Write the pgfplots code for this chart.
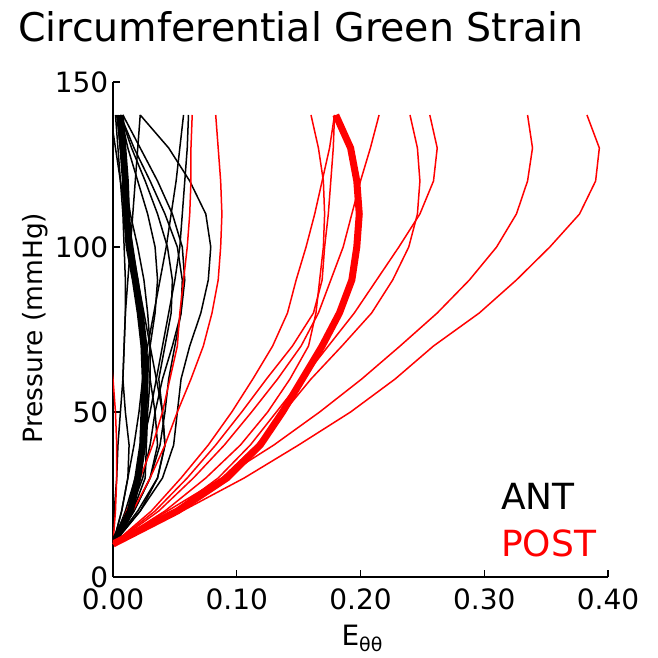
\documentclass[border=0pt]{standalone}
\usepackage{pgfplots}
\usepackage{pgfplotstable}
\pgfplotsset{compat=1.18}
\usepackage{fontspec}
\setmainfont{DejaVu Sans}

\pgfplotstableread{
P   B1    B2    B3    B4    B5    B6    B7     B8    B9    B10   B11   B12   Bm
10  0     0     0     0     0     0     0      0     0     0     0     0     0
20  0.022 0.014 0.020 0.012 0.007 0.010 0.017  0.001 0.007 0.017 0.022 0.016 0.014
30  0.040 0.024 0.036 0.020 0.012 0.018 0.030  0.003 0.012 0.030 0.036 0.026 0.020
40  0.049 0.030 0.042 0.024 0.017 0.024 0.036  0.004 0.013 0.038 0.042 0.027 0.024
50  0.052 0.034 0.040 0.026 0.021 0.030 0.034  0.006 0.010 0.042 0.040 0.028 0.025
60  0.055 0.040 0.037 0.027 0.024 0.035 0.030  0.008 0.008 0.045 0.035 0.030 0.026
70  0.062 0.048 0.042 0.030 0.028 0.040 0.026  0.009 0.009 0.050 0.030 0.030 0.025
80  0.071 0.055 0.047 0.034 0.033 0.045 0.022  0.010 0.010 0.055 0.025 0.028 0.022
90  0.077 0.056 0.048 0.036 0.038 0.050 0.018  0.010 0.012 0.058 0.020 0.025 0.018
100 0.079 0.052 0.044 0.034 0.043 0.054 0.014  0.009 0.014 0.056 0.016 0.020 0.013
110 0.075 0.042 0.036 0.028 0.047 0.056 0.010  0.008 0.016 0.048 0.012 0.014 0.011
120 0.062 0.030 0.026 0.020 0.051 0.058 0.006  0.006 0.018 0.036 0.009 0.010 0.010
130 0.045 0.017 0.015 0.012 0.054 0.060 0.002  0.004 0.020 0.022 0.006 0.006 0.008
140 0.022 0.006 0.006 0.006 0.057 0.061 -0.002 0.002 0.022 0.008 0.003 0.004 0.006
}\antdata

\pgfplotstableread{
P   Ra    Rb    Rc    Rd    Re    Rf    Rg    Rh    Ri    Rj    Rz     Rm
10  0     0     0     0     0     0     0     0     0     0     0      0
20  0.011 0.016 0.042 0.031 0.034 0.037 0.052 0.049 0.044 0.056 0.002  0.052
30  0.022 0.030 0.075 0.055 0.060 0.065 0.088 0.085 0.088 0.106 0.003  0.092
40  0.032 0.042 0.103 0.077 0.083 0.090 0.116 0.111 0.130 0.150 0.003  0.119
50  0.040 0.052 0.125 0.096 0.104 0.112 0.138 0.132 0.167 0.192 0.002  0.137
60  0.046 0.063 0.143 0.113 0.124 0.133 0.160 0.153 0.201 0.228 0.000  0.153
70  0.052 0.073 0.158 0.129 0.145 0.152 0.185 0.174 0.232 0.259 -0.003 0.169
80  0.054 0.080 0.164 0.141 0.162 0.166 0.209 0.195 0.262 0.296 -0.006 0.183
90  0.057 0.085 0.167 0.148 0.169 0.176 0.226 0.213 0.288 0.326 -0.009 0.193
100 0.060 0.087 0.170 0.156 0.171 0.186 0.239 0.231 0.310 0.353 -0.012 0.197
110 0.062 0.088 0.171 0.163 0.174 0.193 0.246 0.248 0.326 0.377 -0.015 0.199
120 0.063 0.087 0.170 0.169 0.176 0.200 0.248 0.259 0.335 0.390 -0.018 0.197
130 0.063 0.085 0.166 0.175 0.178 0.208 0.246 0.262 0.339 0.393 -0.020 0.192
140 0.064 0.083 0.160 0.179 0.179 0.215 0.240 0.256 0.335 0.383 -0.022 0.180
}\postdata

\begin{document}
\begin{tikzpicture}
\begin{axis}[
  scale only axis,
  width=495pt, height=495pt,
  xmin=0, xmax=0.40, ymin=0, ymax=150,
  axis x line*=bottom, axis y line*=left,
  axis line style={line width=1.3pt},
  tick align=inside,
  major tick length=7pt,
  tick style={line width=1.1pt, black},
  xtick={0,0.1,0.2,0.3,0.4},
  xticklabels={0.00,0.10,0.20,0.30,0.40},
  ytick={0,50,100,150},
  yticklabels={0,50,100,150},
  ticklabel style={font=\fontsize{28}{28}\selectfont, inner sep=0.5pt},
  xticklabel style={yshift=-11pt},
  yticklabel style={xshift=-4pt},
  clip=true,
]
\coordinate (O) at (rel axis cs:0,0);
\foreach \c in {B1,B2,B3,B4,B5,B6,B7,B8,B9,B10,B11,B12}{
  \addplot[black, line width=1.5pt] table[x=\c, y=P] {\antdata};
}
\foreach \c in {Ra,Rb,Rc,Rd,Re,Rf,Rg,Rh,Ri,Rj,Rz}{
  \addplot[red, line width=1.5pt] table[x=\c, y=P] {\postdata};
}
\addplot[black, line width=7pt] table[x=Bm, y=P] {\antdata};
\addplot[red, line width=7pt] table[x=Rm, y=P] {\postdata};
\end{axis}
\path ([shift={(-113pt,-81pt)}]O) rectangle ++(658pt,658pt);
\node[anchor=base, font=\fontsize{39.5}{39.5}\selectfont] at ([shift={(188pt,535pt)}]O) {Circumferential Green Strain};
\node[anchor=base, rotate=90, font=\fontsize{26.5}{26.5}\selectfont] at ([shift={(-70pt,249pt)}]O) {Pressure (mmHg)};
\node[anchor=base, font=\fontsize{28}{28}\selectfont] at ([shift={(249pt,-68pt)}]O) {E\raisebox{-6pt}{\fontsize{19}{19}\selectfont θθ}};
\node[anchor=base west, inner sep=0pt, font=\fontsize{36}{36}\selectfont] at ([shift={(388pt,67pt)}]O) {ANT};
\node[anchor=base west, inner sep=0pt, text=red, font=\fontsize{36}{36}\selectfont] at ([shift={(388pt,20pt)}]O) {POST};
\end{tikzpicture}
\end{document}
